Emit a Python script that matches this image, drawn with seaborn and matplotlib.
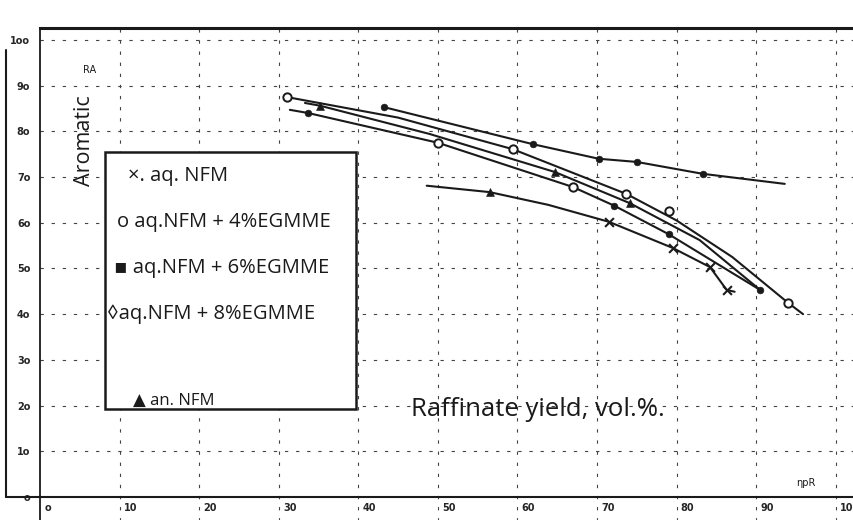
import matplotlib
matplotlib.use("Agg")
import matplotlib.pyplot as plt
import matplotlib.transforms as mtransforms
from matplotlib.patches import Rectangle
from matplotlib.lines import Line2D
import seaborn as sns
import pandas as pd

# ---------------- data ----------------
x_ticks = [0, 10, 20, 30, 40, 50, 60, 70, 80, 90, 100]
x_tick_labels = ["o", "10", "20", "30", "40", "50", "60", "70", "80", "90", "10"]
y_ticks = [0, 10, 20, 30, 40, 50, 60, 70, 80, 90, 100]
y_tick_labels = ["o", "1o", "2o", "3o", "4o", "5o", "6o", "7o", "8o", "9o", "1oo"]

# curve vertices (raffinate yield, aromatics)
curve_a_x = [31.0, 45.0, 59.4, 73.7, 80.0, 87.0, 94.0, 95.9]
curve_a_y = [87.5, 83.0, 76.1, 66.3, 60.5, 52.5, 42.5, 40.0]
curve_b_x = [33.3, 35.2, 49.0, 64.7, 74.1, 82.9, 90.5]
curve_b_y = [86.2, 85.6, 79.4, 71.1, 64.3, 56.2, 45.3]
curve_c_x = [31.4, 33.7, 50.0, 67.0, 72.2, 79.0, 90.5]
curve_c_y = [84.7, 84.0, 77.5, 67.8, 63.7, 57.5, 45.3]
curve_d_x = [43.2, 61.9, 70.2, 75.0, 83.3, 93.6]
curve_d_y = [85.3, 77.2, 74.0, 73.3, 70.7, 68.5]
curve_e_x = [48.6, 56.5, 63.9, 71.5, 79.5, 84.2, 86.3, 87.3]
curve_e_y = [68.1, 66.7, 63.9, 60.2, 54.5, 50.3, 45.3, 44.9]

# plotted markers grouped by glyph
open_x = [31.0, 59.4, 73.7, 79.0, 94.0, 50.0, 67.0]
open_y = [87.5, 76.1, 66.3, 62.6, 42.5, 77.5, 67.8]
dot_x = [33.7, 72.2, 79.0, 43.2, 61.9, 70.2, 75.0, 83.3, 90.5]
dot_y = [84.0, 63.7, 57.5, 85.3, 77.2, 74.0, 73.3, 70.7, 45.3]
tri_x = [35.2, 64.7, 74.1, 56.5]
tri_y = [85.6, 71.1, 64.3, 66.7]
cross_x = [71.5, 79.5, 84.2, 86.3]
cross_y = [60.2, 54.5, 50.3, 45.3]

legend_labels = ["\u00d7. aq. NFM", "o aq.NFM + 4%EGMME", "\u25aa aq.NFM + 6%EGMME",
                 "\u25caaq.NFM + 8%EGMME", "\u25b2 an. NFM"]

# ---------------- figure ----------------
sns.set_style("white")
plt.rcParams["font.family"] = ["Open Sans", "DejaVu Sans"]

W, H = 854, 520
fig = plt.figure(figsize=(W / 100, H / 100), dpi=100)
ax_left, ax_right, ax_top, ax_bot = 40, 854, 28, 497
ax = fig.add_axes([ax_left / W, 1 - ax_bot / H, (ax_right - ax_left) / W, (ax_bot - ax_top) / H])
ax.set_xlim(0, 102.3)
ax.set_ylim(0, 102.6)

ink = "#1a1a1a"
grid_kw = dict(color="#444444", lw=0.8, linestyle=(0, (3, 7)))
ax.vlines(x_ticks[1:], -6, 102.6, clip_on=False, zorder=1, **grid_kw)
ax.hlines(y_ticks[1:], 0, 102.3, zorder=1, **grid_kw)

curves = [(curve_a_x, curve_a_y), (curve_b_x, curve_b_y), (curve_c_x, curve_c_y),
          (curve_d_x, curve_d_y), (curve_e_x, curve_e_y)]
for cx, cy in curves:
    sns.lineplot(x=cx, y=cy, ax=ax, color=ink, lw=1.5, sort=False, estimator=None, zorder=3)

sns.scatterplot(x=open_x, y=open_y, ax=ax, marker="o", s=36, facecolor="white",
                edgecolor=ink, linewidth=1.4, zorder=4)
sns.scatterplot(x=dot_x, y=dot_y, ax=ax, marker="o", s=24, color=ink, edgecolor=ink, zorder=4)
sns.scatterplot(x=tri_x, y=tri_y, ax=ax, marker="^", s=32, color=ink, edgecolor=ink, zorder=4)
sns.scatterplot(x=cross_x, y=cross_y, ax=ax, marker="x", s=40, color=ink, linewidth=1.5, zorder=4)

# axes styling
ax.spines["right"].set_visible(False)
ax.spines["top"].set_linewidth(2.2)
ax.spines["left"].set_linewidth(1.3)
ax.spines["bottom"].set_linewidth(1.5)
for s in ["top", "left", "bottom"]:
    ax.spines[s].set_color(ink)

ax.set_xticks(x_ticks)
ax.set_xticklabels(x_tick_labels, fontsize=7, fontweight="bold", family="DejaVu Sans")
ax.set_yticks(y_ticks)
ax.set_yticklabels(y_tick_labels, fontsize=7, fontweight="bold", family="DejaVu Sans")
ax.tick_params(axis="x", length=0, pad=4)
ax.tick_params(axis="y", length=5, width=1.2, direction="out", pad=2, color=ink)
offset = mtransforms.ScaledTranslation(3 / 72, 0, fig.dpi_scale_trans)
for lab in ax.get_xticklabels():
    lab.set_horizontalalignment("left")
    lab.set_transform(lab.get_transform() + offset)
ax.set_xlabel("")
ax.set_ylabel("")

# extra frame lines of the scanned sheet
fig.add_artist(Line2D([ax_left / W, ax_left / W], [0, 1 - ax_bot / H], color=ink, lw=1.3))
fig.add_artist(Line2D([6 / W, ax_left / W], [1 - ax_bot / H, 1 - ax_bot / H], color=ink, lw=1.5))
fig.add_artist(Line2D([6 / W, 6 / W], [1 - ax_bot / H, 1 - 50 / H], color=ink, lw=1.5))

# axis titles placed as on the sheet
def fx(px):
    return (px - ax_left) / (ax_right - ax_left)

def fy(py):
    return (ax_bot - py) / (ax_bot - ax_top)

ax.text(fx(85), fy(141), "Aromatic", rotation=90, ha="center", va="center",
        fontsize=15.5, color=ink, transform=ax.transAxes)
ax.text(fx(90), fy(70), "RA", ha="center", va="center", fontsize=7,
        color=ink, transform=ax.transAxes, family="DejaVu Sans")
ax.text(fx(538), fy(410), "Raffinate yield, vol.%.", ha="center", va="center",
        fontsize=18.5, color=ink, transform=ax.transAxes, zorder=6)
ax.text(fx(806), fy(483), "\u03b7pR", ha="center", va="center", fontsize=7,
        color=ink, transform=ax.transAxes, family="DejaVu Sans")

# legend box (glyphs are part of the label text, as in the sheet)
box_l, box_r, box_t, box_b = 105, 356, 152, 409
ax.add_patch(Rectangle((fx(box_l), fy(box_b)), fx(box_r) - fx(box_l), fy(box_t) - fy(box_b),
                       transform=ax.transAxes, facecolor="white", edgecolor=ink,
                       lw=1.8, zorder=5))
leg_pos = [(128, 176), (117, 222), (114, 268), (107, 314), (133, 401)]
leg_sizes = [14.5, 14.5, 14.5, 14.5, 12]
for (px, py), lab, fs in zip(leg_pos, legend_labels, leg_sizes):
    ax.text(fx(px), fy(py), lab, ha="left", va="center", fontsize=fs, color=ink,
            transform=ax.transAxes, zorder=6, family=["Open Sans", "DejaVu Sans"])

fig.savefig("out.png", dpi=100)
